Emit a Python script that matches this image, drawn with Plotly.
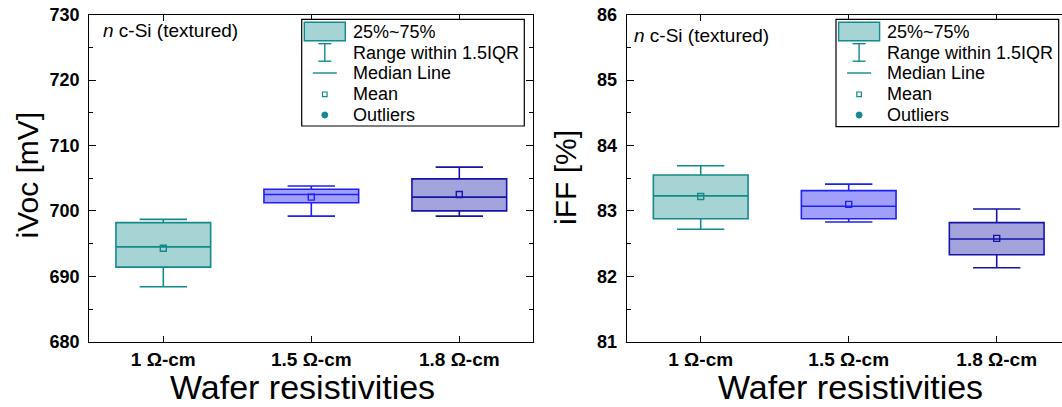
import plotly.graph_objects as go

W, H = 1062, 407

# Categories and box statistics read for each wafer resistivity
categories = ["1 Ω-cm", "1.5 Ω-cm", "1.8 Ω-cm"]

voc_lower = [688.4, 699.2, 699.2]
voc_q1 = [691.4, 701.25, 700.0]
voc_median = [694.5, 702.5, 702.1]
voc_q3 = [698.2, 703.3, 704.9]
voc_upper = [698.7, 703.8, 706.7]
voc_mean = [694.3, 702.1, 702.5]

ff_lower = [82.72, 82.83, 82.13]
ff_q1 = [82.88, 82.88, 82.33]
ff_median = [83.23, 83.07, 82.57]
ff_q3 = [83.55, 83.31, 82.82]
ff_upper = [83.69, 83.41, 83.03]
ff_mean = [83.22, 83.10, 82.58]

edge_colors = ["#138A8A", "#2020F5", "#1414A8"]
fill_colors = ["#A6D3D3", "#A0A0FA", "#A4A4DC"]

FONT = "Arial, Liberation Sans, sans-serif"

# plot areas in pixels (left, right, top, bottom)
LEFT_AREA = (89.3, 533.3, 14.7, 341.7)
RIGHT_AREA = (626.7, 1062.0, 14.7, 341.7)
CAT_STEP = 148.0


def px(x):
    return x / W


def py(y):
    return 1 - y / H


fig = go.Figure()


def add_boxes(xa, ya, lower, q1, med, q3, upper, mean):
    for i, cat in enumerate(categories):
        fig.add_trace(go.Box(
            x=[cat], q1=[q1[i]], median=[med[i]], q3=[q3[i]],
            lowerfence=[lower[i]], upperfence=[upper[i]],
            width=0.64, whiskerwidth=0.5,
            fillcolor=fill_colors[i],
            line=dict(color=edge_colors[i], width=1.6),
            showlegend=False, hoverinfo="skip",
            xaxis=xa, yaxis=ya,
        ))
        fig.add_trace(go.Scatter(
            x=[cat], y=[mean[i]], mode="markers",
            marker=dict(symbol="square-open", size=6,
                        color=edge_colors[i], line=dict(width=1.4)),
            showlegend=False, hoverinfo="skip",
            xaxis=xa, yaxis=ya,
        ))


add_boxes("x", "y", voc_lower, voc_q1, voc_median, voc_q3, voc_upper, voc_mean)
add_boxes("x2", "y2", ff_lower, ff_q1, ff_median, ff_q3, ff_upper, ff_mean)

ytickfont = dict(family=FONT, size=18, color="black", weight="bold")
xtickfont = dict(family=FONT, size=19, color="black", weight="bold")


def xaxis_cfg(area):
    l, r, t, b = area
    span = (r - l) / CAT_STEP
    return dict(
        domain=[px(l), px(r)], range=[-0.5, -0.5 + span],
        type="category", categoryorder="array", categoryarray=categories,
        showline=True, linecolor="black", linewidth=1.3,
        mirror="allticks", ticks="inside", ticklen=6, tickwidth=1.2,
        tickcolor="black", tickfont=xtickfont, showgrid=False,
        zeroline=False, ticklabelstandoff=0, automargin=False,
    )


def yaxis_cfg(area, rng, dtick, minor, mirror):
    l, r, t, b = area
    return dict(
        domain=[py(b), py(t)], range=rng, dtick=dtick,
        showline=True, linecolor="black", linewidth=1.3,
        mirror=mirror, ticks="inside", ticklen=7, tickwidth=1.2,
        tickcolor="black", tickfont=ytickfont, showgrid=False,
        zeroline=False, automargin=False, ticklabelstandoff=5,
        minor=dict(dtick=minor, ticks="inside", ticklen=4,
                   tickwidth=1.2, tickcolor="black", showgrid=False),
    )


fig.update_layout(
    width=W, height=H,
    margin=dict(l=0, r=0, t=0, b=0, autoexpand=False),
    paper_bgcolor="white", plot_bgcolor="white",
    boxmode="overlay",
    xaxis=dict(xaxis_cfg(LEFT_AREA), anchor="y"),
    yaxis=dict(yaxis_cfg(LEFT_AREA, [680, 730], 10, 5, "allticks"), anchor="x"),
    xaxis2=dict(xaxis_cfg(RIGHT_AREA), anchor="y2"),
    yaxis2=dict(yaxis_cfg(RIGHT_AREA, [81, 86], 1, 0.5, False), anchor="x2"),
)

shapes = []
annotations = []


def text_at(text, x, y, size, xanchor="center", angle=0):
    annotations.append(dict(text=text, x=px(x), y=py(y), xref="paper", yref="paper",
                            xanchor=xanchor, yanchor="middle", textangle=angle,
                            showarrow=False,
                            font=dict(family=FONT, size=size, color="black")))


# Axis titles
text_at("iVoc [mV]", 27.5, 175, 30, angle=-90)
text_at("iFF [%]", 566, 178, 30, angle=-90)
text_at("Wafer resistivities", 302, 387, 34)
text_at("Wafer resistivities", 850, 387, 34)

# Sample label
text_at("<i>n</i> c-Si (textured)", 101, 30.5, 19, xanchor="left")
text_at("<i>n</i> c-Si (textured)", 632, 36, 19, xanchor="left")


def add_key(left, top, right, bottom):
    """Box-plot key drawn inside a framed panel."""
    teal = edge_colors[0]
    shapes.append(dict(type="rect", xref="paper", yref="paper",
                       x0=px(left), x1=px(right), y0=py(bottom), y1=py(top),
                       line=dict(color="black", width=1.2), fillcolor="white", layer="above"))
    sx0, sx1 = left + 2.6, left + 43.6
    cx = (sx0 + sx1) / 2
    text_x = left + 49
    rows = [top + 12.4, top + 33.4, top + 53.7, top + 75, top + 95.7]
    # swatch
    shapes.append(dict(type="rect", xref="paper", yref="paper",
                       x0=px(sx0), x1=px(sx1), y0=py(rows[0] + 9), y1=py(rows[0] - 9.5),
                       line=dict(color=teal, width=1.4), fillcolor=fill_colors[0], layer="above"))
    # whisker symbol
    shapes.append(dict(type="line", xref="paper", yref="paper",
                       x0=px(cx), x1=px(cx), y0=py(rows[1] - 9), y1=py(rows[1] + 8.5),
                       line=dict(color=teal, width=1.4), layer="above"))
    for yy in (rows[1] - 9, rows[1] + 8.5):
        shapes.append(dict(type="line", xref="paper", yref="paper",
                           x0=px(cx - 6.5), x1=px(cx + 6.5), y0=py(yy), y1=py(yy),
                           line=dict(color=teal, width=1.4), layer="above"))
    # median line
    shapes.append(dict(type="line", xref="paper", yref="paper",
                       x0=px(cx - 12), x1=px(cx + 12), y0=py(rows[2]), y1=py(rows[2]),
                       line=dict(color=teal, width=1.4), layer="above"))
    # mean square
    shapes.append(dict(type="rect", xref="paper", yref="paper",
                       x0=px(cx - 2.3), x1=px(cx + 2.3), y0=py(rows[3] + 2.3), y1=py(rows[3] - 2.3),
                       line=dict(color=teal, width=1.2), fillcolor="white", layer="above"))
    # outlier dot
    shapes.append(dict(type="circle", xref="paper", yref="paper",
                       x0=px(cx - 3), x1=px(cx + 3), y0=py(rows[4] + 3), y1=py(rows[4] - 3),
                       line=dict(color=teal, width=1), fillcolor=teal, layer="above"))
    labels = ["25%~75%", "Range within 1.5IQR", "Median Line", "Mean", "Outliers"]
    for lab, yy in zip(labels, rows):
        text_at(lab, text_x, yy, 18, xanchor="left")


add_key(301.7, 19.3, 524.3, 126.0)
add_key(836.0, 19.3, 1058.7, 126.7)

fig.update_layout(shapes=shapes, annotations=annotations)

fig.write_html("out.html")
